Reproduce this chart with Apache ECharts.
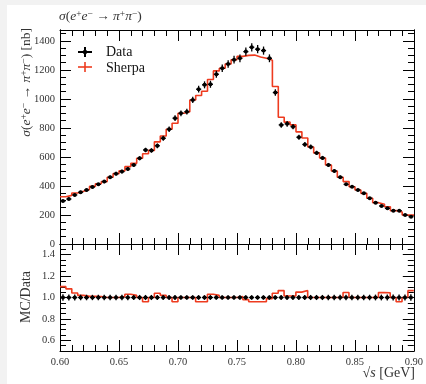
<!DOCTYPE html>
<html>
<head>
<meta charset="utf-8">
<script src="https://cdn.jsdelivr.net/npm/echarts@6/dist/echarts.min.js"></script>
<style>
  html, body { margin: 0; padding: 0; background: #f2f2f2; width: 426px; height: 384px; overflow: hidden; }
  #chart { position: absolute; left: 7px; top: 5px; width: 419px; height: 379px; background: #fff; }
</style>
</head>
<body>
<div id="chart"></div>
<script>
// bin edges in sqrt(s) [GeV]
const binEdges = [
  0.600, 0.605, 0.610, 0.615, 0.620, 0.625, 0.630, 0.635, 0.640, 0.645,
  0.650, 0.655, 0.660, 0.665, 0.670, 0.675, 0.680, 0.685, 0.690, 0.695,
  0.700, 0.705, 0.710, 0.715, 0.720, 0.725, 0.730, 0.735, 0.740, 0.745,
  0.750, 0.755, 0.760, 0.765, 0.770, 0.775, 0.780, 0.785, 0.790, 0.795,
  0.800, 0.805, 0.810, 0.815, 0.820, 0.825, 0.830, 0.835, 0.840, 0.845,
  0.850, 0.855, 0.860, 0.865, 0.870, 0.875, 0.880, 0.885, 0.890, 0.895,
  0.900
];

// measured cross section [nb]
const dataVals = [
  296, 310, 338, 357, 372, 393, 411, 430, 460, 485,
  499, 517, 545, 591, 648, 645, 677, 729, 791, 867,
  901, 912, 993, 1067, 1097, 1101, 1170, 1211, 1241, 1270,
  1280, 1326, 1356, 1343, 1333, 1280, 1044, 821, 828, 809,
  736, 686, 669, 628, 593, 545, 503, 460, 411, 395,
  372, 349, 315, 285, 262, 246, 230, 230, 200, 188
];

// relative data uncertainty
const dataRelErr = [
  0.030, 0.028, 0.027, 0.026, 0.026, 0.025, 0.025, 0.025, 0.025, 0.025,
  0.025, 0.025, 0.024, 0.024, 0.024, 0.024, 0.024, 0.023, 0.023, 0.023,
  0.022, 0.022, 0.022, 0.022, 0.022, 0.022, 0.021, 0.021, 0.021, 0.021,
  0.021, 0.021, 0.021, 0.021, 0.021, 0.021, 0.022, 0.023, 0.023, 0.023,
  0.023, 0.024, 0.024, 0.024, 0.024, 0.025, 0.025, 0.025, 0.025, 0.025,
  0.026, 0.026, 0.026, 0.027, 0.027, 0.027, 0.028, 0.028, 0.029, 0.030
];

// Sherpa prediction [nb]
const mcVals = [
  326, 335, 352, 364, 376, 397, 415, 430, 460, 485,
  504, 533, 556, 591, 622, 645, 704, 744, 791, 832,
  901, 912, 993, 1024, 1053, 1134, 1193, 1211, 1241, 1270,
  1293, 1300, 1302, 1289, 1280, 1267, 1086, 874, 840, 821,
  773, 731, 669, 628, 593, 545, 503, 460, 430, 395,
  372, 349, 315, 285, 274, 257, 230, 221, 200, 200
];

// tick values
const xTicks = [0.60, 0.65, 0.70, 0.75, 0.80, 0.85, 0.90];
const yTicks = [0, 200, 400, 600, 800, 1000, 1200, 1400];
const yMinorTicks = [
  0, 50, 100, 150, 200, 250, 300, 350, 400, 450, 500, 550, 600, 650, 700,
  750, 800, 850, 900, 950, 1000, 1050, 1100, 1150, 1200, 1250, 1300, 1350, 1400, 1450
];
const ratioTicks = [0.6, 0.8, 1.0, 1.2, 1.4];
const ratioMinorTicks = [
  0.5, 0.55, 0.6, 0.65, 0.7, 0.75, 0.8, 0.85, 0.9, 0.95, 1.0,
  1.05, 1.1, 1.15, 1.2, 1.25, 1.3, 1.35, 1.4, 1.45, 1.5
];

const SERIF = '"Liberation Serif", "DejaVu Serif", serif';
const RED = '#ee3b1f';
const TXT = '#333';

const chart = echarts.init(document.getElementById('chart'));

const centers = dataVals.map((_, i) => (binEdges[i] + binEdges[i + 1]) / 2);
const dataPts = dataVals.map((v, i) => [centers[i], v, v * dataRelErr[i], binEdges[i], binEdges[i + 1]]);
const ratioPts = dataVals.map((v, i) => [centers[i], 1, dataRelErr[i], binEdges[i], binEdges[i + 1]]);
const mcStep = mcVals.map((v, i) => [binEdges[i], v]).concat([[binEdges[binEdges.length - 1], mcVals[mcVals.length - 1]]]);
const ratioStep = mcVals.map((v, i) => [binEdges[i], v / dataVals[i]])
  .concat([[binEdges[binEdges.length - 1], mcVals[mcVals.length - 1] / dataVals[dataVals.length - 1]]]);

// data points with error bars
function renderErr(params, api) {
  const x = api.value(0), y = api.value(1), e = api.value(2);
  const c = api.coord([x, y]);
  const xl = api.coord([api.value(3), y])[0];
  const xr = api.coord([api.value(4), y])[0];
  const lo = api.coord([x, y - e])[1];
  const hi = api.coord([x, y + e])[1];
  const st = { stroke: '#000', lineWidth: 1.3 };
  return {
    type: 'group',
    children: [
      { type: 'line', shape: { x1: xl + 0.4, y1: c[1], x2: xr - 0.4, y2: c[1] }, style: st },
      { type: 'line', shape: { x1: c[0], y1: lo, x2: c[0], y2: hi }, style: st },
      { type: 'circle', shape: { cx: c[0], cy: c[1], r: 2 }, style: { fill: '#000' } }
    ]
  };
}

// grids (chart div is offset by 7,5 in the page)
const G0 = { left: 53, top: 25, width: 354, height: 214 };
const G1 = { left: 53, top: 239, width: 354, height: 107 };

const labelStyle = { fontFamily: SERIF, fontSize: 10.5, color: TXT };

function xAx(grid, pos, showLabel) {
  return {
    type: 'value', gridIndex: grid, position: pos,
    min: 0.6, max: 0.9, interval: 0.05,
    splitLine: { show: false },
    axisLine: { show: true, onZero: false, lineStyle: { color: '#000', width: 1 } },
    axisTick: { show: true, inside: true, length: 11, lineStyle: { color: '#000', width: 1 } },
    minorTick: { show: true, splitNumber: 5, length: 6, lineStyle: { color: '#000', width: 1 } },
    axisLabel: Object.assign({ show: showLabel, margin: 6, formatter: v => v.toFixed(2) }, labelStyle)
  };
}

function yAx(grid, pos, min, max, ticks, len, showLabel, fmt) {
  return {
    type: 'value', gridIndex: grid, position: pos, min: min, max: max,
    splitLine: { show: false },
    axisLine: { show: true, onZero: false, lineStyle: { color: '#000', width: 1 } },
    axisTick: { show: true, inside: true, length: len, customValues: ticks, lineStyle: { color: '#000', width: 1 } },
    axisLabel: Object.assign({ show: showLabel, customValues: ticks, margin: 5, formatter: fmt }, labelStyle)
  };
}

const supRich = {
  i: { font: 'italic 13.5px ' + SERIF, fill: TXT },
  r: { font: '13.5px ' + SERIF, fill: TXT },
  s: { font: '9.5px ' + SERIF, fill: TXT, verticalAlign: 'top' }
};
const procText = '{i|σ}{r|(}{i|e}{s|+}{i|e}{s|−}{r| → }{i|π}{s|+}{i|π}{s|−}{r|)}';

const option = {
  backgroundColor: '#fff',
  animation: false,
  grid: [G0, G1],
  xAxis: [
    xAx(0, 'bottom', false),
    xAx(0, 'top', false),
    xAx(1, 'bottom', true),
    xAx(1, 'top', false)
  ],
  yAxis: [
    yAx(0, 'left', 0, 1475, yTicks, 11, true, v => String(v)),
    yAx(0, 'left', 0, 1475, yMinorTicks, 6, false),
    yAx(0, 'right', 0, 1475, yTicks, 11, false),
    yAx(0, 'right', 0, 1475, yMinorTicks, 6, false),
    yAx(1, 'left', 0.5, 1.5, ratioTicks, 11, true, v => v.toFixed(1)),
    yAx(1, 'left', 0.5, 1.5, ratioMinorTicks, 6, false),
    yAx(1, 'right', 0.5, 1.5, ratioTicks, 11, false),
    yAx(1, 'right', 0.5, 1.5, ratioMinorTicks, 6, false)
  ],
  series: [
    {
      name: 'Sherpa', type: 'line', xAxisIndex: 0, yAxisIndex: 0,
      step: 'end', data: mcStep, showSymbol: false, clip: true,
      lineStyle: { color: RED, width: 1.6 }, z: 2
    },
    {
      name: 'Data', type: 'custom', xAxisIndex: 0, yAxisIndex: 0,
      renderItem: renderErr, data: dataPts, encode: { x: 0, y: 1 }, clip: true, z: 3
    },
    {
      name: 'Sherpa ratio', type: 'line', xAxisIndex: 2, yAxisIndex: 4,
      step: 'end', data: ratioStep, showSymbol: false, clip: true,
      lineStyle: { color: RED, width: 1.6 }, z: 2
    },
    {
      name: 'Data ratio', type: 'custom', xAxisIndex: 2, yAxisIndex: 4,
      renderItem: renderErr, data: ratioPts, encode: { x: 0, y: 1 }, clip: true, z: 3
    }
  ],
  graphic: [
    // plot title
    { type: 'text', x: 52, y: 11, style: { text: procText, rich: supRich, align: 'left', verticalAlign: 'middle' } },
    // y-axis title (upper)
    { type: 'text', x: 19, y: 23, rotation: Math.PI / 2,
      style: { text: procText + '{r| [nb]}', rich: supRich, align: 'right', verticalAlign: 'middle' } },
    // y-axis title (ratio)
    { type: 'text', x: 19, y: 292, rotation: Math.PI / 2,
      style: { text: 'MC/Data', font: '14px ' + SERIF, fill: TXT, align: 'center', verticalAlign: 'middle' } },
    // x-axis title
    { type: 'text', x: 408, y: 368,
      style: { text: '√{i|s}{r| [GeV]}', rich: { i: { font: 'italic 14px ' + SERIF, fill: TXT }, r: { font: '14px ' + SERIF, fill: TXT } },
        font: '14px ' + SERIF, fill: TXT, align: 'right', verticalAlign: 'middle' } },
    // legend: data
    { type: 'line', shape: { x1: 71, y1: 47, x2: 85, y2: 47 }, style: { stroke: '#000', lineWidth: 2 } },
    { type: 'line', shape: { x1: 78, y1: 42, x2: 78, y2: 52 }, style: { stroke: '#000', lineWidth: 2 } },
    { type: 'circle', shape: { cx: 78, cy: 47, r: 2.2 }, style: { fill: '#000' } },
    { type: 'text', x: 99, y: 47, style: { text: 'Data', font: '14px ' + SERIF, fill: '#111', align: 'left', verticalAlign: 'middle' } },
    // legend: sherpa
    { type: 'line', shape: { x1: 71, y1: 62, x2: 85, y2: 62 }, style: { stroke: RED, lineWidth: 1.6 } },
    { type: 'line', shape: { x1: 78, y1: 57, x2: 78, y2: 67 }, style: { stroke: RED, lineWidth: 1.6 } },
    { type: 'text', x: 99, y: 63, style: { text: 'Sherpa', font: '14px ' + SERIF, fill: '#111', align: 'left', verticalAlign: 'middle' } }
  ]
};

chart.setOption(option);
</script>
</body>
</html>
